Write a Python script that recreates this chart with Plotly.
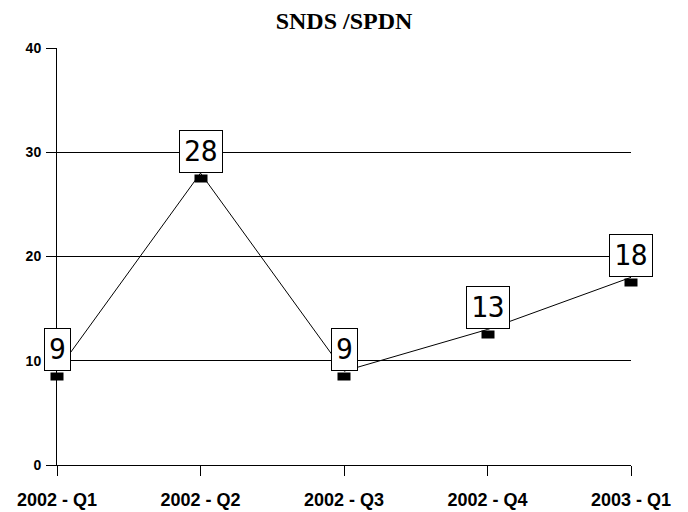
import plotly.graph_objects as go

categories = ["2002 - Q1", "2002 - Q2", "2002 - Q3", "2002 - Q4", "2003 - Q1"]
values = [9, 28, 9, 13, 18]
y_ticks = [0, 10, 20, 30, 40]

xs = list(range(len(categories)))

fig = go.Figure()
fig.add_trace(go.Scatter(
    x=xs, y=values, mode="lines",
    line=dict(color="black", width=1),
    hoverinfo="skip", showlegend=False, cliponaxis=False,
))

annotations = []
for x, v in zip(xs, values):
    # black marker block just below the point
    annotations.append(dict(
        x=x, y=v, xref="x", yref="y", text=" ", showarrow=False,
        width=12, height=7, bgcolor="black", borderpad=0,
        font=dict(size=4), yanchor="top", yshift=-1,
    ))
    # boxed value label above the point
    annotations.append(dict(
        x=x, y=v, xref="x", yref="y", text=str(v), showarrow=False,
        yanchor="bottom", bgcolor="white", bordercolor="black", borderwidth=1,
        borderpad=4, font=dict(family="DejaVu Sans Mono, Liberation Mono", size=28, color="black"),
    ))

fig.update_layout(
    width=680, height=504,
    margin=dict(l=49, r=57, t=40, b=47, autoexpand=False),
    paper_bgcolor="white", plot_bgcolor="white",
    title=dict(text="<b>SNDS /SPDN</b>", x=(49 + 287) / 680, xanchor="center", y=0.976, yanchor="middle",
               font=dict(family="Liberation Serif, Times New Roman", size=24, color="black")),
    annotations=annotations,
    showlegend=False,
    xaxis=dict(
        range=[0, len(categories) - 1], tickmode="array", tickvals=xs, ticktext=categories,
        showgrid=False, zeroline=False, showline=True, linecolor="black", linewidth=1,
        ticks="outside", ticklen=10, tickcolor="black", automargin=False, ticklabelstandoff=8,
        tickfont=dict(family="Liberation Sans, Arial", size=18, color="black", weight="bold"),
        fixedrange=True,
    ),
    yaxis=dict(
        range=[0, 40], tickmode="array", tickvals=y_ticks,
        showgrid=True, gridcolor="black", gridwidth=1, zeroline=False,
        showline=True, linecolor="black", linewidth=1, automargin=False,
        ticks="outside", ticklen=10, tickcolor="black", ticklabelstandoff=2,
        tickfont=dict(family="Liberation Sans, Arial", size=14, color="black", weight="bold"),
        fixedrange=True,
    ),
)

fig.write_html("out.html")
